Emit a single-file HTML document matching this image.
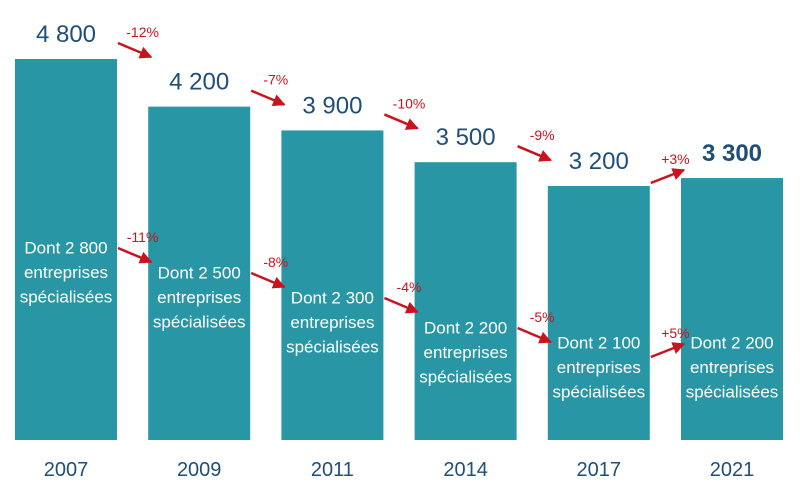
<!DOCTYPE html>
<html><head><meta charset="utf-8"><style>
html,body{margin:0;padding:0;background:#fff;}
svg{display:block;font-family:"Liberation Sans",sans-serif;}
</style></head><body>
<svg id="chart" width="800" height="500" viewBox="0 0 800 500">
<defs><marker id="ah" viewBox="0 0 10 10" refX="9" refY="5" markerWidth="5" markerHeight="5" orient="auto"><path d="M0,0 L10,5 L0,10 z" fill="#C8141E"/></marker></defs>
</svg>
<script>
const years = ["2007","2009","2011","2014","2017","2021"];
const totals = [4800,4200,3900,3500,3200,3300];
const totalLabels = ["4 800","4 200","3 900","3 500","3 200","3 300"];
const specialized = [2800,2500,2300,2200,2100,2200];
const specLabels = ["2 800","2 500","2 300","2 200","2 100","2 200"];
const totalChanges = ["-12%","-7%","-10%","-9%","+3%"];
const specChanges = ["-11%","-8%","-4%","-5%","+5%"];
const innerCenters = [272,297,322,352,367,367];

const svg = document.getElementById('chart');
const NS = 'http://www.w3.org/2000/svg';
const baseY = 440, maxV = 4800, topY = 59;
function y(v){ return baseY - v/maxV*(baseY-topY); }
function bx(i){ return 15 + i*133.2; }
const bw = 102;
function mk(tag, attrs, parent){ const e=document.createElementNS(NS,tag); for(const k in attrs) e.setAttribute(k,attrs[k]); (parent||svg).appendChild(e); return e; }

years.forEach((yr,i)=>{
  const r = mk('rect',{x:bx(i),y:y(totals[i]),width:bw,height:baseY-y(totals[i]),fill:'#2996A6'});
  
  
  const t = mk('text',{x:bx(i)+bw/2,y:y(totals[i])-17,'text-anchor':'middle','font-size':24,fill:'#1F4E79','font-weight':i===years.length-1?'bold':'normal'});
  t.textContent = totalLabels[i];
  
  
  const yl = mk('text',{x:bx(i)+bw/2,y:476,'text-anchor':'middle','font-size':20,fill:'#1F4E79'});
  yl.textContent = yr;
  
  
  const g = mk('text',{'text-anchor':'middle','font-size':17,fill:'#fff'});
  
  
  const lines = ['Dont '+specLabels[i],'entreprises','spécialisées'];
  lines.forEach((l,j)=>{ const ts=mk('tspan',{x:bx(i)+bw/2,y:innerCenters[i]+6+(j-1)*24.5},g); ts.textContent=l; });
});

function arrow(i, ys, up, label, name){
  const x1 = bx(i)+bw+1, x2 = bx(i+1)+3;
  const y2 = up ? ys-13 : ys+14;
  const a = mk('line',{x1:x1,y1:ys,x2:x2,y2:y2,stroke:'#C8141E','stroke-width':2.5,'marker-end':'url(#ah)'});
  
  
  const t = mk('text',{x:(x1+x2)/2+8,y:Math.min(ys,y2)-6,'text-anchor':'middle','font-size':14,fill:'#C8141E'});
  t.textContent = label;
  
  
}
for(let i=0;i<years.length-1;i++){
  const upT = totals[i+1]>totals[i];
  arrow(i, upT ? y(totals[i])-3 : y(totals[i])-16, upT, totalChanges[i], 'total-change-'+years[i+1]);
  const upS = specialized[i+1]>specialized[i];
  arrow(i, upS ? innerCenters[i]-10 : innerCenters[i]-24, upS, specChanges[i], 'spec-change-'+years[i+1]);
}
</script>
</body></html>
